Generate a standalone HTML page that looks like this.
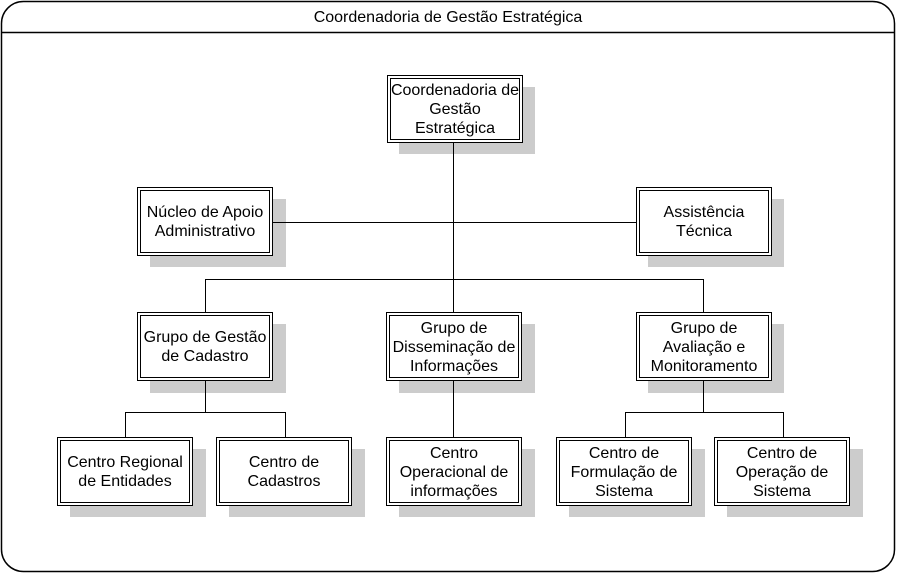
<!DOCTYPE html>
<html><head><meta charset="utf-8"><style>
body{margin:0;width:897px;height:574px;background:#fff;position:relative;font-family:"Liberation Sans",sans-serif;overflow:hidden}
svg{position:absolute;left:0;top:0}
.b{position:absolute;display:flex;align-items:center;justify-content:center;text-align:center;font-size:16px;line-height:19px;color:#000;white-space:nowrap}
</style></head><body>
<svg width="897" height="574">
<rect x="1.5" y="1.5" width="893" height="570" rx="22" fill="#fff" stroke="#000" stroke-width="1.5"/>
<line x1="2" y1="32.5" x2="895" y2="32.5" stroke="#000" stroke-width="1.5"/>
<text x="448" y="22" font-size="16" text-anchor="middle" font-family="Liberation Sans">Coordenadoria de Gestão Estratégica</text>
<g fill="#ccc">
<rect x="399" y="87" width="136" height="67"/>
<rect x="150" y="199" width="136" height="68"/>
<rect x="648" y="199" width="136" height="68"/>
<rect x="150" y="324" width="136" height="69"/>
<rect x="399" y="324" width="136" height="69"/>
<rect x="648" y="324" width="136" height="69"/>
<rect x="70" y="449" width="136" height="68"/>
<rect x="229" y="449" width="136" height="68"/>
<rect x="399" y="449" width="136" height="68"/>
<rect x="569" y="449" width="136" height="68"/>
<rect x="727" y="449" width="136" height="68"/>
</g>
<g stroke="#000" stroke-width="1" fill="none">
<path d="M453.5 141V312M272 222.5H637M205.5 312V279.5H703.5V312M205.5 381V412.5M125.5 437V412.5H285.5V437M453.5 381V437M703.5 381V412.5M625.5 437V412.5H783.5V437"/>
</g>
<g fill="#fff" stroke="#000">
<rect x="387.5" y="75.5" width="135" height="67"/><rect x="390.5" y="78.5" width="129" height="61"/>
<rect x="137.5" y="187.5" width="135" height="68"/><rect x="140.5" y="190.5" width="129" height="62"/>
<rect x="636.5" y="187.5" width="135" height="68"/><rect x="639.5" y="190.5" width="129" height="62"/>
<rect x="137.5" y="312.5" width="135" height="68"/><rect x="140.5" y="315.5" width="129" height="62"/>
<rect x="386.5" y="312.5" width="135" height="68"/><rect x="389.5" y="315.5" width="129" height="62"/>
<rect x="636.5" y="312.5" width="135" height="68"/><rect x="639.5" y="315.5" width="129" height="62"/>
<rect x="57.5" y="437.5" width="135" height="68"/><rect x="60.5" y="440.5" width="129" height="62"/>
<rect x="216.5" y="437.5" width="135" height="68"/><rect x="219.5" y="440.5" width="129" height="62"/>
<rect x="386.5" y="437.5" width="135" height="68"/><rect x="389.5" y="440.5" width="129" height="62"/>
<rect x="556.5" y="437.5" width="135" height="68"/><rect x="559.5" y="440.5" width="129" height="62"/>
<rect x="714.5" y="437.5" width="135" height="68"/><rect x="717.5" y="440.5" width="129" height="62"/>
</g>
</svg>
<div class="b" style="left:387px;top:76px;width:136px;height:67px">Coordenadoria de<br>Gestão<br>Estratégica</div>
<div class="b" style="left:137px;top:188px;width:136px;height:68px">Núcleo de Apoio<br>Administrativo</div>
<div class="b" style="left:636px;top:188px;width:136px;height:68px">Assistência<br>Técnica</div>
<div class="b" style="left:137px;top:313px;width:136px;height:68px">Grupo de Gestão<br>de Cadastro</div>
<div class="b" style="left:386px;top:313px;width:136px;height:68px">Grupo de<br>Disseminação de<br>Informações</div>
<div class="b" style="left:636px;top:313px;width:136px;height:68px">Grupo de<br>Avaliação e<br>Monitoramento</div>
<div class="b" style="left:57px;top:438px;width:136px;height:68px">Centro Regional<br>de Entidades</div>
<div class="b" style="left:216px;top:438px;width:136px;height:68px">Centro de<br>Cadastros</div>
<div class="b" style="left:386px;top:438px;width:136px;height:68px">Centro<br>Operacional de<br>informações</div>
<div class="b" style="left:556px;top:438px;width:136px;height:68px">Centro de<br>Formulação de<br>Sistema</div>
<div class="b" style="left:714px;top:438px;width:136px;height:68px">Centro de<br>Operação de<br>Sistema</div>
</body></html>
